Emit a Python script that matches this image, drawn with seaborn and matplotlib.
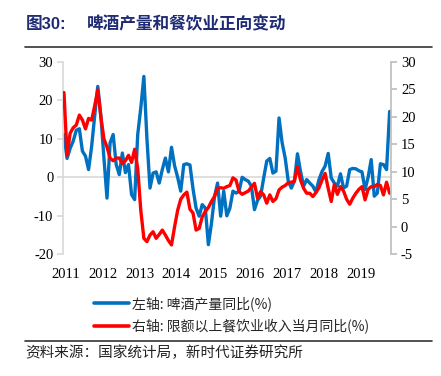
import numpy as np
import matplotlib
matplotlib.use("Agg")
import matplotlib.pyplot as plt
from matplotlib.lines import Line2D
import seaborn as sns

# 月度数据 2011-01 至 2019-11
beer_yoy = [11.1, 4.9, 7.5, 9.4, 12.2, 12.6, 6.8, 5.5, 2.0, 8.0, 16.0, 23.6,
            16.0, 5.0, -5.4, 8.9, 11.1, 3.3, 0.7, 6.3, 1.2, 3.3, -4.5, -5.8,
            11.1, 18.0, 26.2, 10.0, -2.8, 1.1, 1.4, -1.5, 2.0, 5.0, 1.4, 7.8,
            3.0, 0.0, -3.6, 3.3, 3.5, 3.2, -3.0, -8.0, -10.1, -7.1, -8.0, -17.5,
            -12.0, -5.0, -1.5, -10.1, -3.6, -10.0, -8.0, -3.6, -4.1, -3.6, 0.0, -0.6,
            -1.0, -2.3, -8.4, -6.0, -4.9, -0.2, 4.2, 4.9, 1.1, 1.6, 15.4, 9.0,
            5.0, -1.0, -2.8, -1.0, 6.1, 1.5, -2.3, -0.6, -1.5, -2.3, -3.8, -0.6,
            1.5, 2.9, 6.2, -0.2, -1.5, -2.3, 0.9, -2.8, -2.3, 2.0, 2.3, 2.2,
            1.7, 1.4, -3.2, 0.0, 4.6, -4.9, -4.1, 3.5, 3.3, 2.0, 17.1]

catering_yoy = [24.4, 13.0, 17.0, 18.0, 18.5, 20.3, 19.4, 17.8, 19.7, 19.4, 22.0, 24.9,
                20.0, 16.0, 14.5, 12.5, 12.0, 12.5, 12.5, 11.5, 12.0, 13.0, 11.7, 14.1,
                10.6, 3.0, -2.1, -2.7, -1.5, -0.9, -2.1, -1.4, -0.6, -1.5, -2.5, -3.3,
                0.0, 3.0, 5.0, 5.8, 6.3, 3.2, 2.5, -0.6, -0.3, 1.8, 2.8, 3.5,
                4.6, 5.5, 7.0, 7.1, 7.0, 7.3, 7.5, 8.9, 8.5, 6.4, 5.9, 6.2,
                6.5, 7.2, 7.9, 5.2, 6.4, 5.8, 4.3, 5.8, 4.6, 5.1, 6.7, 7.2,
                7.5, 8.0, 8.1, 8.3, 10.9, 8.5, 7.0, 6.1, 6.1, 5.5, 6.2, 7.1,
                8.5, 9.7, 7.0, 4.6, 7.7, 5.9, 7.3, 6.5, 5.0, 4.1, 5.2, 6.1,
                6.8, 7.3, 4.9, 6.8, 7.3, 7.3, 7.7, 7.5, 5.8, 8.1, 6.1]

year_labels = ["2011", "2012", "2013", "2014", "2015", "2016", "2017", "2018", "2019"]

title_num = "图30:"
title_text = "啤酒产量和餐饮业正向变动"
legend_labels = ["左轴: 啤酒产量同比(%)", "右轴: 限额以上餐饮业收入当月同比(%)"]
source_text = "资料来源：国家统计局，新时代证券研究所"

sns.set_theme(style="white")
plt.rcParams['font.family'] = ['Noto Sans CJK SC', 'DejaVu Sans']
plt.rcParams['axes.unicode_minus'] = False

BLUE = "#0070C0"
RED = "#FF0000"
NAVY = "#1F2C74"
GREY = "#BFBFBF"

months = np.arange(len(beer_yoy))

fig = plt.figure(figsize=(4.41, 3.76), dpi=100)
ax = fig.add_axes([0.143, 0.3237, 0.744, 0.512])
ax2 = ax.twinx()

ax.axhline(0, color="#D9D9D9", lw=1.2, zorder=0)
sns.lineplot(x=months, y=beer_yoy, ax=ax, color=BLUE, lw=2.4)
sns.lineplot(x=months, y=catering_yoy, ax=ax2, color=RED, lw=2.4)

ax.set_xlim(-0.3, 106.5)
ax.set_ylim(-20, 30)
ax2.set_ylim(-5, 30)
ax.set_yticks(range(-20, 31, 10))
ax2.set_yticks(range(-5, 31, 5))
ax.set_xticks([i * 12 + 0.6 for i in range(len(year_labels))])
ax.set_xticklabels(year_labels)
ax.set_xlabel("")
ax.set_ylabel("")
ax2.set_ylabel("")

serif = "Liberation Serif"
for lab in ax.get_xticklabels() + ax.get_yticklabels() + ax2.get_yticklabels():
    lab.set_fontfamily(serif)
    lab.set_fontsize(10.5)
    lab.set_color("#000000")

for a in (ax, ax2):
    for s in a.spines.values():
        s.set_visible(False)
ax.spines["left"].set_visible(True)
ax.spines["left"].set_color("#D9D9D9")
ax2.spines["right"].set_visible(True)
ax2.spines["right"].set_color(GREY)
ax.tick_params(axis="y", left=True, length=4, color="#D9D9D9", pad=3)
ax.tick_params(axis="x", bottom=False, pad=4)
ax2.tick_params(axis="y", right=True, length=4, color=GREY, pad=3)

handles = [Line2D([], [], color=BLUE, lw=2.6), Line2D([], [], color=RED, lw=2.6)]
fig.legend(handles, legend_labels, loc="upper left", bbox_to_anchor=(0.213, 0.212),
           frameon=False, fontsize=10, handlelength=2.5, handletextpad=0.25,
           labelspacing=0.55, borderpad=0, borderaxespad=0)

fig.text(0.058, 0.935, title_num, fontsize=12, fontweight="bold", color=NAVY, va="center",
         family=["Liberation Sans", "Noto Sans CJK SC"])
fig.text(0.197, 0.935, title_text, fontsize=12, fontweight="bold", color=NAVY, va="center")
fig.add_artist(Line2D([0.057, 0.98], [0.875, 0.875], color="#333333", lw=1.2))
fig.add_artist(Line2D([0.057, 0.98], [0.093, 0.093], color="#333333", lw=1.2))
fig.text(0.058, 0.062, source_text, fontsize=10.5, color="#222222", va="center")

fig.savefig("out.png", dpi=100)
